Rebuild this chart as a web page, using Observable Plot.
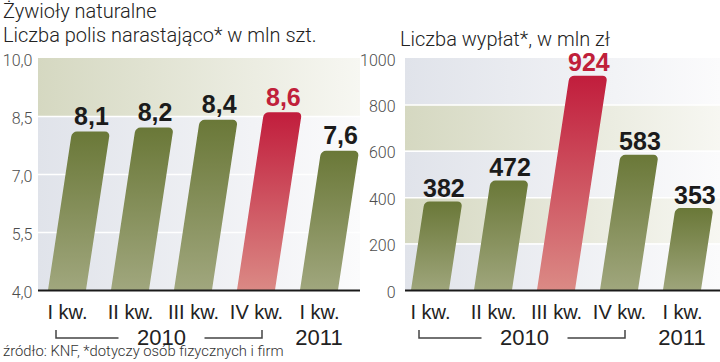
<!DOCTYPE html>
<html><head><meta charset="utf-8">
<script src="https://cdn.jsdelivr.net/npm/d3@7"></script>
<script src="https://cdn.jsdelivr.net/npm/@observablehq/plot@0.6"></script>
<style>
body{margin:0;background:#fff;}
#wrap{position:relative;width:720px;height:362px;overflow:hidden;font-family:Roboto,sans-serif;}
#wrap svg{position:absolute;top:0;}
.t{position:absolute;font-weight:300;color:#222;white-space:nowrap;font-size:20px;line-height:22px;}
.src{position:absolute;font-weight:300;color:#333;white-space:nowrap;font-size:14.8px;line-height:16px;left:3px;top:343px;}
</style></head><body><div id="wrap">
<div class="t" style="left:3px;top:0px">Żywioły naturalne</div>
<div class="t" style="left:3px;top:24px">Liczba polis narastająco* w mln szt.</div>
<div class="t" style="left:400px;top:28px">Liczba wypłat*, w mln zł</div>
<div class="src">źródło: KNF, *dotyczy osób fizycznych i firm</div>
</div>
<script>
// ---- data ----
const quarters = ["I kw. 2010", "II kw. 2010", "III kw. 2010", "IV kw. 2010", "I kw. 2011"];
const polisValues = [8.1, 8.2, 8.4, 8.6, 7.6];
const polisLabels = ["8,1", "8,2", "8,4", "8,6", "7,6"];
const polisHighlight = 3;
const polisDomain = [4, 10];
const polisTicks = [4, 5.5, 7, 8.5, 10];
const polisBands = [{from: 8.5, to: 10, tone: "beige"}, {from: 4, to: 8.5, tone: "blue"}];

const wyplatyValues = [382, 472, 924, 583, 353];
const wyplatyLabels = ["382", "472", "924", "583", "353"];
const wyplatyHighlight = 2;
const wyplatyDomain = [0, 1000];
const wyplatyTicks = [0, 200, 400, 600, 800, 1000];
const wyplatyBands = [
  {from: 800, to: 1000, tone: "blue"}, {from: 600, to: 800, tone: "beige"},
  {from: 400, to: 600, tone: "blue"}, {from: 200, to: 400, tone: "beige"},
  {from: 0, to: 200, tone: "blue"}
];
const years = [{label: "2010", from: 0, to: 3, bracket: true}, {label: "2011", from: 4, to: 4, bracket: false}];

const SKEW = 8.6;
const T = Math.tan(SKEW * Math.PI / 180);

function makeChart({id, values, labels, hi, domain, ticks, tickFormat, bands, marginLeft, xRange, tickPadding, left, labelGap}) {
  const data = quarters.map((q, i) => ({q, v: values[i], label: labels[i], hi: i === hi}));
  const NS = "http://www.w3.org/2000/svg";
  const defs = () => {
    const g = document.createElementNS(NS, "g");
    const d = document.createElementNS(NS, "defs");
    const grads = [
      [`${id}-beige`, 1, 0, [["0", "#d5d8c1"], ["1", "#f7f7f2"]]],
      [`${id}-blue`, 1, 0, [["0", "#e0e3ea"], ["1", "#fbfbfc"]]],
      [`${id}-green`, 0, 1, [["0", "#6a7838"], ["1", "#a3a981"]]],
      [`${id}-red`, 0, 1, [["0", "#c11d3c"], ["1", "#dc8e88"]]]
    ];
    for (const [gid, x2, y2, stops] of grads) {
      const lg = document.createElementNS(NS, "linearGradient");
      lg.setAttribute("id", gid);
      lg.setAttribute("x1", "0"); lg.setAttribute("y1", "0");
      lg.setAttribute("x2", String(x2)); lg.setAttribute("y2", String(y2));
      for (const [o, c] of stops) {
        const s = document.createElementNS(NS, "stop");
        s.setAttribute("offset", o); s.setAttribute("stop-color", c);
        lg.appendChild(s);
      }
      d.appendChild(lg);
    }
    g.appendChild(d);
    return g;
  };
  const skewBars = (index, scales, vals, dims, ctx, next) => {
    const g = next(index, scales, vals, dims, ctx);
    const y0 = scales.y(domain[0]);
    const prev = g.getAttribute("transform") || "";
    g.setAttribute("transform", `${prev} translate(0,${y0}) skewX(${-SKEW}) translate(0,${-y0})`);
    return g;
  };
  const shiftText = (index, scales, vals, dims, ctx, next) => {
    const y0 = scales.y(domain[0]);
    const X = Array.from(vals.x, (x, i) => x + T * (y0 - vals.y[i]));
    return next(index, scales, {...vals, x: X}, dims, ctx);
  };
  const yearRow = (index, scales, vals, dims) => {
    const x = scales.x, bw = x.bandwidth ? x.bandwidth() : 0;
    const c = q => x(q) + bw / 2;
    const base = dims.height - dims.marginBottom;
    const g = d3.create("svg:g").attr("fill", "#222").attr("font-family", "'Liberation Sans', Arimo, sans-serif").attr("font-size", 22);
    for (const yr of years) {
      const a = c(quarters[yr.from]), b = c(quarters[yr.to]);
      const m = (a + b) / 2;
      g.append("text").attr("x", m).attr("y", base + 55).attr("text-anchor", "middle").text(yr.label);
      if (yr.bracket) {
        const l = a - 11, r = b + 6;
        g.append("path")
          .attr("d", `M${l},${base + 40}V${base + 48}H${m - 43}M${m + 43},${base + 48}H${r}V${base + 40}`)
          .attr("fill", "none").attr("stroke", "#444").attr("stroke-width", 1.5);
      }
    }
    return g.node();
  };
  return Plot.plot({
    width: 360, height: 362,
    marginTop: 58, marginBottom: 72, marginLeft, marginRight: 0,
    style: {fontFamily: "Roboto, sans-serif", color: "#222", background: "transparent", overflow: "visible", left: left + "px"},
    x: {type: "band", domain: quarters, range: xRange, paddingInner: 0.4, paddingOuter: 0.2},
    y: {domain},
    color: {type: "identity"},
    marks: [
      defs,
      Plot.rect(bands, {filter: d => d.tone === "beige", y1: "from", y2: "to", fill: `url(#${id}-beige)`}),
      Plot.rect(bands, {filter: d => d.tone === "blue", y1: "from", y2: "to", fill: `url(#${id}-blue)`}),
      Plot.ruleY(ticks.filter(t => t !== domain[0] && t !== domain[1]), {stroke: "#fff", strokeWidth: 1.5}),
      Plot.barY(data, {x: "q", y1: domain[0], y2: "v", rx: 5, insetBottom: -8, clip: true,
        fill: d => d.hi ? `url(#${id}-red)` : `url(#${id}-green)`, render: skewBars}),
      Plot.text(data, {x: "q", y: "v", text: "label", dy: -labelGap, lineAnchor: "bottom",
        fontFamily: "'Liberation Sans', Arimo, sans-serif", fontWeight: "bold", fontSize: 25,
        fill: d => d.hi ? "#c0203a" : "#1b1b1b", render: shiftText}),
      Plot.ruleY([domain[0]], {stroke: "#1a1a1a", strokeWidth: 2}),
      Plot.axisY({ticks, tickFormat, tickSize: 0, tickPadding, fontSize: 16, fontWeight: 300, fill: "#4d4d4d", dy: 2, label: null}),
      Plot.axisX({tickSize: 0, tickPadding: 14, fontSize: 20, fontFamily: "'Liberation Sans', Arimo, sans-serif", fill: "#222",
        tickFormat: d => d.replace(/ \d{4}$/, ""), label: null}),
      yearRow
    ]
  });
}

const wrap = document.getElementById("wrap");
const c1 = makeChart({
  id: "pol", values: polisValues, labels: polisLabels, hi: polisHighlight, domain: polisDomain,
  ticks: polisTicks, tickFormat: d => d.toFixed(1).replace(".", ","), bands: polisBands,
  marginLeft: 38, xRange: [35, 351], tickPadding: 6, left: 0, labelGap: 7
});
const c2 = makeChart({
  id: "wyp", values: wyplatyValues, labels: wyplatyLabels, hi: wyplatyHighlight, domain: wyplatyDomain,
  ticks: wyplatyTicks, tickFormat: d => String(d), bands: wyplatyBands,
  marginLeft: 45, xRange: [37.5, 353.5], tickPadding: 10, left: 360, labelGap: 5
});
wrap.insertBefore(c2, wrap.firstChild);
wrap.insertBefore(c1, wrap.firstChild);
</script>
</body></html>
